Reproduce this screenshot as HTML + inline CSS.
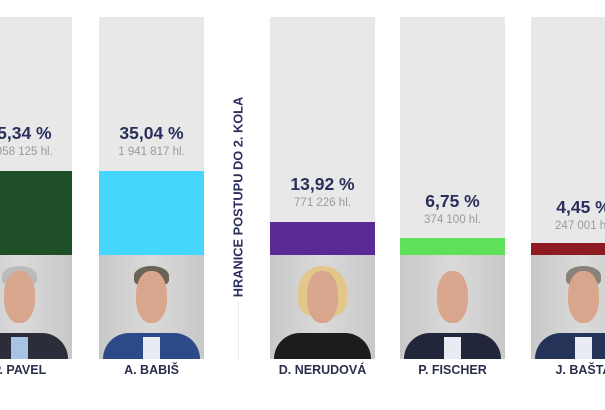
<!DOCTYPE html>
<html><head><meta charset="utf-8"><style>
html,body{margin:0;padding:0;width:605px;height:410px;overflow:hidden;background:#fff;font-family:"Liberation Sans",sans-serif}
.col{position:absolute;top:17px;width:105px;height:342px;background:#e8e8e8;overflow:hidden}
.bar{position:absolute;left:0;width:100%;bottom:104px}
.photo{position:absolute;left:0;bottom:0;width:100%;height:104px;background:linear-gradient(90deg,#c8c8c8,#dadada 50%,#c8c8c8)}
.suit{position:absolute;bottom:0;left:4%;width:92%;height:26px;border-radius:30px 30px 0 0}
.shirt{position:absolute;bottom:0;left:42%;width:16%;height:22px;background:#e8ecf2}
.face{position:absolute;left:35%;width:30%;height:52px;top:16px;border-radius:45%;background:#d8a68c}
.hair{position:absolute;left:33%;width:34%;height:20px;top:11px;border-radius:50% 50% 30% 30%}
.pct{position:absolute;width:100%;text-align:center;font-weight:bold;font-size:17.5px;color:#2b2f5c}
.vot{position:absolute;width:100%;text-align:center;font-size:11.5px;color:#9a9a9a}
.name{position:absolute;top:363px;width:105px;text-align:center;font-weight:bold;font-size:12.5px;color:#2b2f4c}
</style></head><body>

<div class="col" style="left:-33px">
 <div class="pct" style="top:106px">35,34 %</div><div class="vot" style="top:129px">1 958 125 hl.</div>
 <div class="bar" style="top:154px;background:#1f4f26"></div>
 <div class="photo"><div class="hair" style="background:#bbb"></div><div class="face"></div><div class="suit" style="background:#2b2e3a"></div><div class="shirt" style="background:#a9c3e3"></div></div>
</div>
<div class="name" style="left:-33px">P. PAVEL</div>

<div class="col" style="left:99px">
 <div class="pct" style="top:106px">35,04 %</div><div class="vot" style="top:129px">1 941 817 hl.</div>
 <div class="bar" style="top:154px;background:#45d6fb"></div>
 <div class="photo"><div class="hair" style="background:#6b6258"></div><div class="face"></div><div class="suit" style="background:#2c4a8a"></div><div class="shirt"></div></div>
</div>
<div class="name" style="left:99px">A. BABIŠ</div>

<div style="position:absolute;left:238px;top:302px;width:0;height:58px;border-left:1px dotted #ddd"></div>
<div style="position:absolute;left:238px;top:197px;transform:translate(-50%,-50%) rotate(-90deg);white-space:nowrap;font-weight:bold;font-size:12.8px;color:#2b2f5c">HRANICE POSTUPU DO 2. KOLA</div>

<div class="col" style="left:270px">
 <div class="pct" style="top:157px">13,92 %</div><div class="vot" style="top:180px">771 226 hl.</div>
 <div class="bar" style="top:205px;background:#5a2a94"></div>
 <div class="photo"><div class="hair" style="background:#e3c78a;height:50px;left:27%;width:46%"></div><div class="face"></div><div class="suit" style="background:#1c1c1c"></div></div>
</div>
<div class="name" style="left:270px">D. NERUDOVÁ</div>

<div class="col" style="left:400px">
 <div class="pct" style="top:174px">6,75 %</div><div class="vot" style="top:197px">374 100 hl.</div>
 <div class="bar" style="top:221px;background:#5fe05a"></div>
 <div class="photo"><div class="face"></div><div class="suit" style="background:#22263a"></div><div class="shirt"></div></div>
</div>
<div class="name" style="left:400px">P. FISCHER</div>

<div class="col" style="left:531px">
 <div class="pct" style="top:180px">4,45 %</div><div class="vot" style="top:203px">247 001 hl.</div>
 <div class="bar" style="top:226px;background:#8e1b22"></div>
 <div class="photo"><div class="hair" style="background:#8a8278"></div><div class="face"></div><div class="suit" style="background:#263358"></div><div class="shirt"></div></div>
</div>
<div class="name" style="left:531px">J. BAŠTA</div>

</body></html>
